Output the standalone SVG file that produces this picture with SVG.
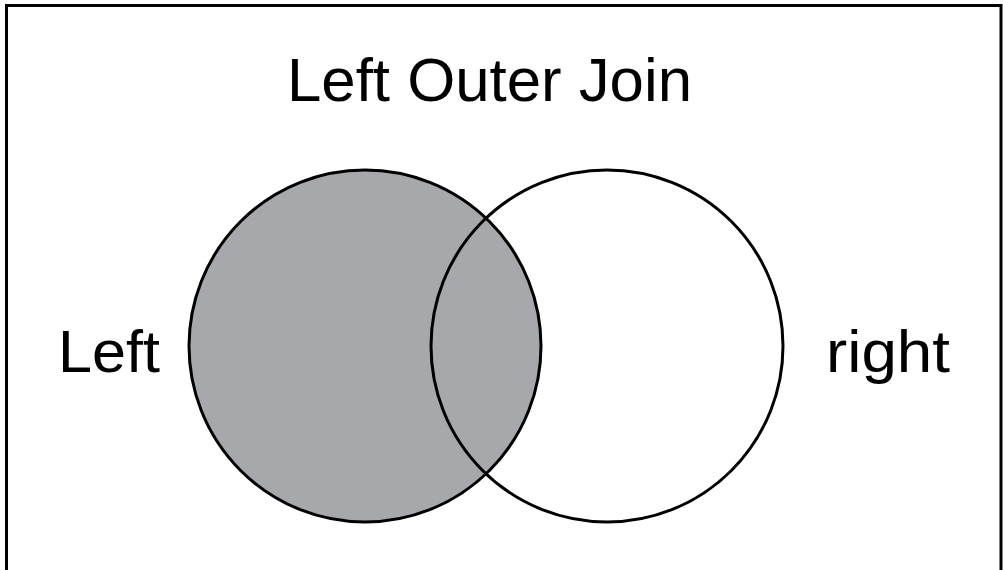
<svg xmlns="http://www.w3.org/2000/svg" width="1003" height="570" viewBox="0 0 1003 570">
<style>
.lbl{font-family:"Liberation Sans",Arial,sans-serif;fill:#000}
.set{stroke:#000;stroke-width:3}
</style>
<rect x="0" y="0" width="1003" height="570" fill="#fff"/>
<rect x="6.5" y="5.5" width="994.5" height="600" fill="none" stroke="#000" stroke-width="3"/>
<text class="lbl" x="489.5" y="101" font-size="61" text-anchor="middle" textLength="405" lengthAdjust="spacingAndGlyphs">Left Outer Join</text>
<g id="left">
<circle class="set" cx="365" cy="346" r="176" fill="#a7a8ab"/>
</g>
<g id="right">
<circle class="set" cx="607" cy="346" r="176" fill="none"/>
</g>
<g id="connectors"></g>
<text class="lbl" x="58" y="372" font-size="59" textLength="102" lengthAdjust="spacingAndGlyphs">Left</text>
<text class="lbl" x="826" y="372" font-size="59" textLength="124" lengthAdjust="spacingAndGlyphs">right</text>
</svg>
